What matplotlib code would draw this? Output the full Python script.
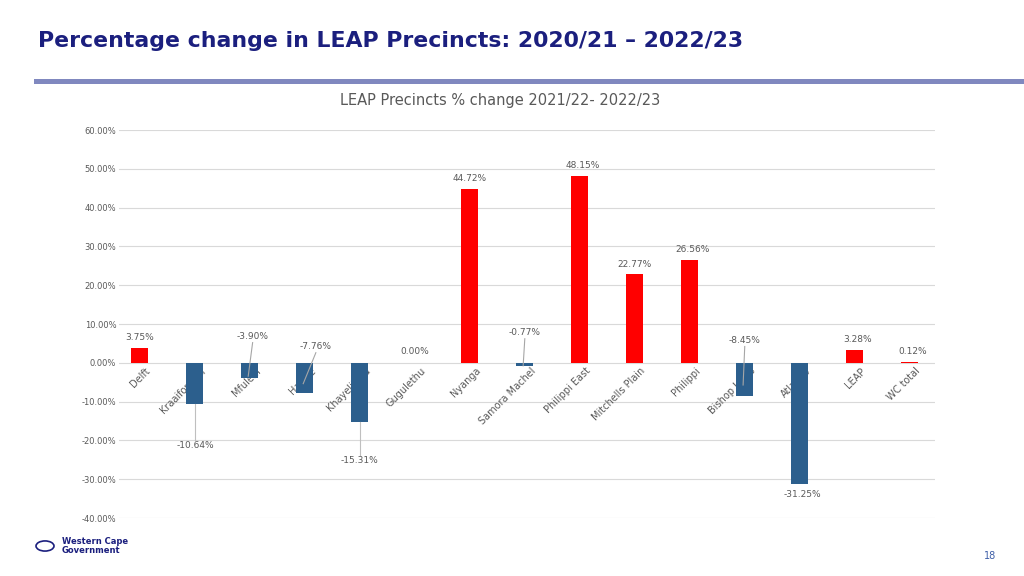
import matplotlib.pyplot as plt
import numpy as np

# chart data
precincts = ['Delft', 'Kraaifontein', 'Mfuleni', 'Harare', 'Khayelitsha', 'Gugulethu',
             'Nyanga', 'Samora Machel', 'Philippi East', 'Mitchells Plain', 'Philippi',
             'Bishop Lavis', 'Atlantis', 'LEAP', 'WC total']
pct_change = [3.75, -10.64, -3.90, -7.76, -15.31, 0.00, 44.72, -0.77, 48.15,
              22.77, 26.56, -8.45, -31.25, 3.28, 0.12]
y_ticks = [-40, -30, -20, -10, 0, 10, 20, 30, 40, 50, 60]

# where the data labels sit (data units), as in the original slide
label_x_shift = [0, 0, 0.05, 0.2, 0, 0, 0, 0, 0.05, 0, 0.05, 0, 0.05, 0.05, 0.05]
label_y = [6.4, -21.4, 6.7, 4.1, -25.3, 2.8, 47.4, 7.7, 50.8, 25.3, 29.1, 5.7, -34.0, 5.9, 2.8]
leader = [False, True, True, True, True, False, False, True, False, False, False, True,
          False, False, False]

RED = '#FF0000'
BLUE = '#2C5F8D'
GREY = '#595959'
NAVY = '#1B1F7E'

fig = plt.figure(figsize=(10.24, 5.76), dpi=100)
W, H = 1024, 576

# slide title and rule
fig.text(38 / W, 1 - 41 / H, 'Percentage change in LEAP Precincts: 2020/21 \u2013 2022/23',
         fontsize=15.8, fontweight='bold', color=NAVY, va='center', ha='left',
         family='DejaVu Sans')
fig.add_artist(plt.Rectangle((34 / W, 1 - 84 / H), 1 - 34 / W, 5 / H,
                             transform=fig.transFigure, color='#8088BF', lw=0))

ax = fig.add_axes([119 / W, 1 - 518 / H, (935 - 119) / W, (518 - 130) / H])
x = np.arange(len(precincts))
colors = [RED if v >= 0 else BLUE for v in pct_change]
ax.bar(x, pct_change, width=0.31, color=colors, zorder=3)

ax.set_xlim(-0.38, len(precincts) - 0.54)
ax.set_ylim(-40, 60)
ax.set_yticks(y_ticks)
ax.set_yticklabels([f'{t:.2f}%' for t in y_ticks], fontsize=6, color=GREY)
ax.set_xticks([])
ax.grid(axis='y', color='#D9D9D9', lw=0.8, zorder=0)
ax.tick_params(axis='y', length=0, pad=2)
for s in ax.spines.values():
    s.set_visible(False)

fig.text(500 / W, 1 - 101 / H, 'LEAP Precincts % change 2021/22- 2022/23', fontsize=10.5,
         color=GREY, ha='center', va='center')

# category labels rotated, next to the zero line (drawn behind the bars)
for i, name in enumerate(precincts):
    ax.text(i + 0.1, -0.8, name, rotation=45, rotation_mode='anchor', ha='right',
            va='top', fontsize=7, color=GREY, zorder=2)

# data labels
for i, v in enumerate(pct_change):
    lx = i + label_x_shift[i]
    ly = label_y[i]
    ax.text(lx, ly, f'{v:.2f}%', ha='center', va='center', fontsize=6.5, color=GREY,
            zorder=5)
    if leader[i]:
        if ly > 0:
            ax.plot([lx, i - 0.03], [ly - 1.5, v / 2 - 1.5 if v < -2 else v],
                    color='#A6A6A6', lw=0.8, zorder=4)
        else:
            ax.plot([i, i], [v, ly + 1.5], color='#BFBFBF', lw=0.8, zorder=4)

# footer
fig.text(62 / W, 1 - 546 / H, 'Western Cape\nGovernment', fontsize=6, color=NAVY,
         fontweight='bold', va='center', ha='left', linespacing=1.0)
fig.add_artist(plt.Circle((45 / W, 1 - 546 / H), 9 / W, transform=fig.transFigure,
                          fill=False, ec=NAVY, lw=1.2))
fig.text(990 / W, 1 - 556 / H, '18', fontsize=7, color='#3F5FA8', ha='center',
         va='center')

fig.savefig('out.png', dpi=100)
